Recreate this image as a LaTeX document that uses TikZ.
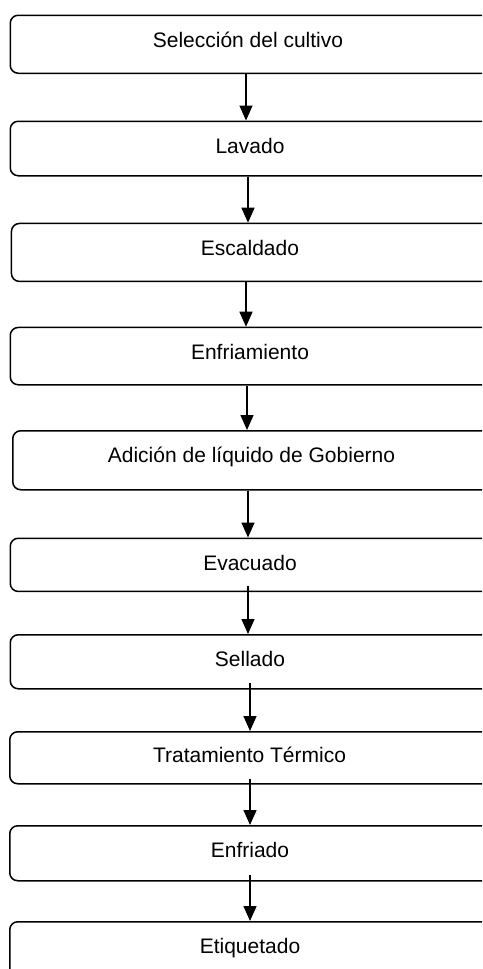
\documentclass[tikz,border=0pt]{standalone}
\usepackage{fontspec}
\setmainfont{Liberation Sans}
\usetikzlibrary{arrows.meta,calc}
\tikzset{
  stepbox/.style={draw=black, line width=1.5pt, rounded corners=8pt, minimum width=500pt, inner sep=0pt, anchor=north west},
  lbl/.style={font=\fontsize{21}{25}\selectfont, anchor=base, inner sep=0pt},
  arr/.style={draw=black, line width=1.5pt, -{Triangle[length=15pt,width=13pt]}}
}
\begin{document}
\begin{tikzpicture}[x=1pt,y=-1pt]
\useasboundingbox (0,0) rectangle (482,969);
\clip (0,0) rectangle (482,969);
\fill[white] (0,0) rectangle (482,969);
% boxes
\node[stepbox, minimum height=58pt] (b1) at (9.5,14.5) {};
\node[stepbox, minimum height=54.5pt] (b2) at (9.5,120.5) {};
\node[stepbox, minimum height=58pt] (b3) at (10.7,222.7) {};
\node[stepbox, minimum height=57.3pt] (b4) at (9.5,326.7) {};
\node[stepbox, minimum height=59pt] (b5) at (12,430) {};
\node[stepbox, minimum height=53.2pt] (b6) at (9.5,537.5) {};
\node[stepbox, minimum height=54pt] (b7) at (9.5,634) {};
\node[stepbox, minimum height=52pt] (b8) at (9,731) {};
\node[stepbox, minimum height=55pt] (b9) at (9,825) {};
\node[stepbox, minimum height=55pt] (b10) at (9,921) {};
% labels
\node[lbl] (t1) at (248,47) {Selección del cultivo};
\node[lbl] (t2) at (250,153) {Lavado};
\node[lbl] (t3) at (250,255.2) {Escaldado};
\node[lbl] (t4) at (250,359.2) {Enfriamiento};
\node[lbl] (t5) at (251.5,462.5) {Adición de líquido de Gobierno};
\node[lbl] (t6) at (250,570) {Evacuado};
\node[lbl] (t7) at (250,666.5) {Sellado};
\node[lbl] (t8) at (249.5,762) {Tratamiento Térmico};
\node[lbl] (t9) at (250,857.5) {Enfriado};
\node[lbl] (t10) at (250,953.5) {Etiquetado};
% arrows
\draw[arr] (b1.south -| 246,0) -- (b2.north -| 246,0);
\draw[arr] (b2.south -| 248,0) -- (b3.north -| 248,0);
\draw[arr] (b3.south -| 246,0) -- (b4.north -| 246,0);
\draw[arr] (b4.south -| 247,0) -- (b5.north -| 247,0);
\draw[arr] (b5.south -| 248,0) -- (b6.north -| 248,0);
\draw[arr] ($(b6.south -| 248,0)+(0,-6)$) -- (b7.north -| 248,0);
\draw[arr] ($(b7.south -| 250,0)+(0,-7)$) -- (b8.north -| 250,0);
\draw[arr] ($(b8.south -| 250,0)+(0,-6)$) -- (b9.north -| 250,0);
\draw[arr] ($(b9.south -| 250,0)+(0,-7)$) -- (b10.north -| 250,0);
\end{tikzpicture}
\end{document}
